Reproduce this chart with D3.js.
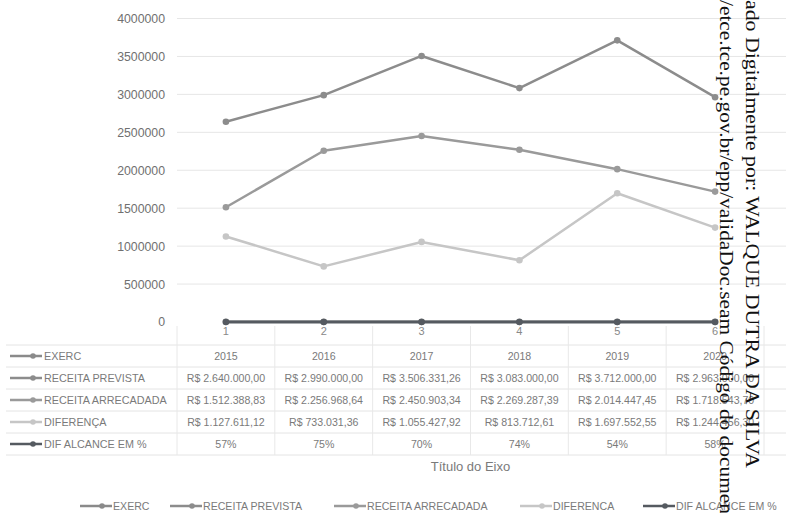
<!DOCTYPE html>
<html><head><meta charset="utf-8">
<script src="https://cdn.jsdelivr.net/npm/d3@7"></script>
<style>
body{margin:0;background:#fff;}
svg{display:block;font-family:"Liberation Sans",Arial,sans-serif;}
</style></head>
<body><svg id="c" width="786" height="513"></svg>
<script>
const categories = [1, 2, 3, 4, 5, 6];
const exerc = [2015, 2016, 2017, 2018, 2019, 2020];
const receitaPrevista = [2640000.00, 2990000.00, 3506331.26, 3083000.00, 3712000.00, 2963000.00];
const receitaArrecadada = [1512388.83, 2256968.64, 2450903.34, 2269287.39, 2014447.45, 1718543.70];
const diferenca = [1127611.12, 733031.36, 1055427.92, 813712.61, 1697552.55, 1244456.30];
const difAlcance = [0.57, 0.75, 0.70, 0.74, 0.54, 0.58];
const yTicks = [0, 500000, 1000000, 1500000, 2000000, 2500000, 3000000, 3500000, 4000000];
const seriesNames = ["EXERC", "RECEITA PREVISTA", "RECEITA ARRECADADA", "DIFERENÇA", "DIF ALCANCE EM %"];
const legendNames = ["EXERC", "RECEITA PREVISTA", "RECEITA ARRECADADA", "DIFERENCA", "DIF ALCANCE EM %"];
const axisTitle = "Título do Eixo";
const watermark1 = "ado Digitalmente por: WALQUE DUTRA DA SILVA";
const watermark2 = "/etce.tce.pe.gov.br/epp/validaDoc.seam Código do documen";

const br = d3.formatLocale({decimal: ",", thousands: ".", grouping: [3], currency: ["R$ ", ""]});
const money = br.format("$,.2f");
const pct = d3.format(".0%");

const seriesValues = [exerc, receitaPrevista, receitaArrecadada, diferenca, difAlcance];
const seriesText = [exerc.map(String), receitaPrevista.map(money), receitaArrecadada.map(money), diferenca.map(money), difAlcance.map(pct)];
const colors = ["#8a8a8a", "#8c8c8c", "#9a9a9a", "#c6c6c6", "#555a60"];

const svg = d3.select("#c");
const plotL = 177, plotR = 764, plotT = 18.5, zeroY = 322;
const x = d3.scaleBand().domain(categories).range([plotL, plotR]).padding(0);
const y = d3.scaleLinear().domain([0, 4000000]).range([zeroY, plotT]);
const cx = d => x(d) + x.bandwidth() / 2;

// gridlines
svg.append("g").selectAll("line").data(yTicks.filter(t => t > 0)).join("line")
  .attr("x1", plotL).attr("x2", 786).attr("y1", d => y(d)).attr("y2", d => y(d))
  .attr("stroke", "#e6e6e6").attr("stroke-width", 1);

// y axis labels
const yAxis = svg.append("g").attr("transform", `translate(${plotL - 12},0)`)
  .call(d3.axisLeft(y).tickValues(yTicks).tickFormat(d3.format("d")).tickSize(0).tickPadding(0));
yAxis.select(".domain").remove();
yAxis.selectAll("text").attr("fill", "#707070").style("font-size", "12.3px").style("font-family", "Liberation Sans, Arial");

// table
const rowTop = 345, rowH = 22;
const tg = svg.append("g");
for (let i = 0; i <= 5; i++) {
  tg.append("line").attr("x1", 6).attr("x2", 786)
    .attr("y1", rowTop + i * rowH).attr("y2", rowTop + i * rowH)
    .attr("stroke", "#e4e4e4");
}
const bounds = categories.map(c => x(c)).concat([plotR]);
tg.selectAll("line.v").data(bounds).join("line").attr("class", "v")
  .attr("x1", d => d).attr("x2", d => d).attr("y1", zeroY + 4).attr("y2", rowTop + 5 * rowH)
  .attr("stroke", "#e8e8e8");

// x axis labels
const xAxis = svg.append("g").attr("transform", `translate(0,${zeroY + 5})`)
  .call(d3.axisBottom(x).tickSize(0).tickPadding(0));
xAxis.select(".domain").remove();
xAxis.selectAll("text").attr("fill", "#888").style("font-size", "11px").attr("dy", "0.7em");

// table rows
seriesNames.forEach((name, i) => {
  const ry = rowTop + i * rowH + rowH / 2;
  tg.append("line").attr("x1", 10).attr("x2", 42).attr("y1", ry).attr("y2", ry)
    .attr("stroke", colors[i]).attr("stroke-width", 2.5);
  tg.append("circle").attr("cx", 33).attr("cy", ry).attr("r", 2.8).attr("fill", colors[i]);
  tg.append("text").attr("x", 44).attr("y", ry).attr("dy", "0.35em")
    .attr("fill", "#7a7a7a").style("font-size", "10.8px").text(name);
  tg.selectAll(null).data(categories).join("text")
    .attr("x", (d) => cx(d)).attr("y", ry).attr("dy", "0.35em").attr("text-anchor", "middle")
    .attr("fill", "#7a7a7a").style("font-size", "10.6px")
    .text((d, j) => seriesText[i][j]);
});

// series lines
const line = d3.line().x((d, j) => cx(categories[j])).y(d => y(d));
[1, 2, 3, 0, 4].forEach(i => {
  const g = svg.append("g");
  g.append("path").datum(seriesValues[i]).attr("d", line)
    .attr("fill", "none").attr("stroke", colors[i]).attr("stroke-width", i === 4 ? 3 : 2.5)
    .attr("stroke-linejoin", "round");
  g.selectAll("circle").data(seriesValues[i]).join("circle")
    .attr("cx", (d, j) => cx(categories[j])).attr("cy", d => y(d)).attr("r", 3.3)
    .attr("fill", colors[i]);
});

// axis title
svg.append("text").attr("x", (plotL + plotR) / 2).attr("y", 466).attr("dy", "0.35em")
  .attr("text-anchor", "middle").attr("fill", "#7a7a7a").style("font-size", "13px").text(axisTitle);

// bottom legend
const legX = [80, 170, 334, 520, 643];
legendNames.forEach((name, i) => {
  const ly = 506;
  svg.append("line").attr("x1", legX[i]).attr("x2", legX[i] + 32).attr("y1", ly).attr("y2", ly)
    .attr("stroke", colors[i]).attr("stroke-width", 2.5);
  svg.append("circle").attr("cx", legX[i] + 22).attr("cy", ly).attr("r", 2.8).attr("fill", colors[i]);
  svg.append("text").attr("x", legX[i] + 33).attr("y", ly).attr("dy", "0.35em")
    .attr("fill", "#7a7a7a").style("font-size", "10.6px").text(name);
});

// watermark (vertical, rotated clockwise)
svg.append("text").attr("transform", "translate(746,0) rotate(90)")
  .attr("x", 0).attr("y", 0).attr("fill", "#111")
  .attr("textLength", 468).attr("lengthAdjust", "spacingAndGlyphs")
  .style("font-family", "Liberation Serif, Times New Roman, serif").style("font-size", "18.5px")
  .text(watermark1);
svg.append("text").attr("transform", "translate(720,0) rotate(90)")
  .attr("x", 0).attr("y", 0).attr("fill", "#111")
  .attr("textLength", 514).attr("lengthAdjust", "spacingAndGlyphs")
  .style("font-family", "Liberation Serif, Times New Roman, serif").style("font-size", "18.5px")
  .text(watermark2);
</script></body></html>
